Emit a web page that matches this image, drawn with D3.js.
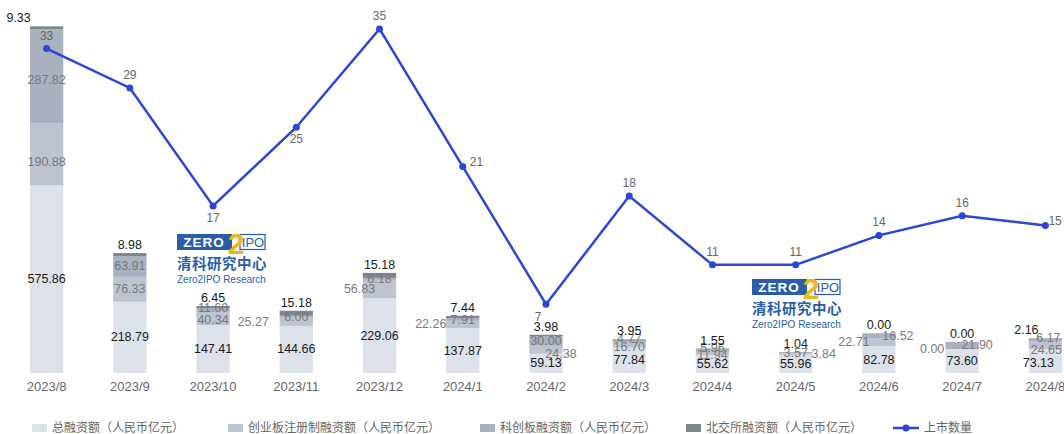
<!DOCTYPE html>
<html>
<head>
<meta charset="utf-8">
<script src="https://cdn.jsdelivr.net/npm/d3@7"></script>
<style>
  body { margin: 0; background: #fff; }
  svg { display: block; font-family: "Liberation Sans", Arial, "Noto Sans CJK SC", sans-serif; }
  .cn { font-family: "Noto Sans CJK SC", sans-serif; }
</style>
</head>
<body>
<div id="chart"></div>
<script>
// data
var months = ['2023/8','2023/9','2023/10','2023/11','2023/12','2024/1','2024/2','2024/3','2024/4','2024/5','2024/6','2024/7','2024/8'];
var totalFin = [575.86, 218.79, 147.41, 144.66, 229.06, 137.87, 59.13, 77.84, 55.62, 55.96, 82.78, 73.60, 73.13];
var cybFin   = [190.88, 76.33, 40.34, 25.27, 56.83, 22.26, 24.38, 16.70, 11.94, 3.84, 22.71, 0.00, 24.65];
var kcbFin   = [287.82, 63.91, 11.60, 6.00, 6.18, 7.91, 30.00, 4.77, 5.96, 3.57, 16.52, 21.90, 6.17];
var bjsFin   = [9.33, 8.98, 6.45, 15.18, 15.18, 7.44, 3.98, 3.95, 1.55, 1.04, 0.00, 0.00, 2.16];
var ipoCount = [33, 29, 17, 25, 35, 21, 7, 18, 11, 11, 14, 16, 15];
var seriesNames = ['总融资额（人民币亿元）', '创业板注册制融资额（人民币亿元）', '科创板融资额（人民币亿元）', '北交所融资额（人民币亿元）'];
var lineName = '上市数量';

// styling / label nudges (not data)
var colors = ['#dde2ea', '#bdc4d0', '#a9b1be', '#7f858f'];
var labelColors = ['#1a1a1a', '#7a7a7a', '#7a7a7a', '#1a1a1a'];
var labelDx = [
    [0, 0, 0, 0, 0, 0, 0, 0, 0, 0, 0, 0, -7],
    [0, 0, 0, -43, -20, -32, 15, 0, 0, 28, -25, -30, 1],
    [0, 0, 0, 0, 0, 0, 0, 0, 0, 0, 19, 15, 3],
    [-28, 0, 0, 0, 0, 0, 0, 0, 0, 0, 0, 0, -19]
];
var labelDy = [
    [0, 0, 0, 0, 0, 0, 0, 0, 0, 0, 0, 0, 2],
    [8, 0, 2, 0, 0, 0, 4, 2, 2, 0, 0, 0, 5],
    [4, 0, -2, 0, 0, 0, 0, -2, -2, 0, 0, 0, -2],
    [0, 0, 0, 0, 0, 0, 0, 0, 0, 0, 0, 0, 0]
];
var lineLabelPos = ['top','top','bottom','bottom','top','right','bottomleft','top','top','top','top','top','right'];

var width = 1064,
    height = 434,
    plotTop = 26,
    plotBottom = 373,
    lineColor = '#2c46d6',
    logoBlue = '#2b5ca8';

var svg = d3.select('#chart').append('svg')
    .attr('width', width)
    .attr('height', height);

var x = d3.scaleBand().domain(months).range([5, 1087]).paddingInner(0.6).paddingOuter(0.3);
var y = d3.scaleLinear().domain([0, 1065]).range([plotBottom, plotTop]);
var yLine = d3.scaleLinear().domain([0, 35.3]).range([plotBottom, plotTop]);

var table = months.map(function(m, i) {
    return { month: m, i: i, total: totalFin[i], cyb: cybFin[i], kcb: kcbFin[i], bjs: bjsFin[i] };
});
var keys = ['total', 'cyb', 'kcb', 'bjs'];
var stacked = d3.stack().keys(keys)(table);

function drawLogo(gx, gy) {
    var g = svg.append('g').attr('transform', 'translate(' + gx + ',' + gy + ')');
    g.append('rect').attr('x', 0).attr('y', 0).attr('width', 55).attr('height', 16).attr('fill', logoBlue);
    g.append('text').attr('x', 27).attr('y', 13).attr('text-anchor', 'middle')
        .attr('fill', '#fff').style('font-weight', 'bold').style('font-size', '13.5px')
        .style('letter-spacing', '1px').text('ZERO');
    g.append('rect').attr('x', 63).attr('y', 0.5).attr('width', 25).attr('height', 15)
        .attr('fill', '#fff').attr('stroke', logoBlue).attr('stroke-width', 1.2);
    g.append('text').attr('x', 76).attr('y', 13).attr('text-anchor', 'middle')
        .attr('fill', logoBlue).style('font-size', '13px').text('IPO');
    g.append('text').attr('x', 59).attr('y', 20).attr('text-anchor', 'middle')
        .attr('fill', '#f3b31a').style('font-weight', 'bold').style('font-size', '30px').text('2');
    g.append('text').attr('class', 'cn').attr('x', 0).attr('y', 35)
        .attr('fill', logoBlue).style('font-weight', 'bold').style('font-size', '14.5px')
        .style('letter-spacing', '0.5px').text('清科研究中心');
    g.append('text').attr('x', 0).attr('y', 49)
        .attr('fill', logoBlue).style('font-size', '10px').text('Zero2IPO Research');
}

function drawBars() {
    var layers = svg.append('g').selectAll('g.layer')
        .data(stacked).enter().append('g')
        .attr('class', 'layer')
        .attr('fill', function(d, k) { return colors[k]; });
    layers.selectAll('rect')
        .data(function(d) { return d; }).enter().append('rect')
        .attr('x', function(d) { return x(d.data.month); })
        .attr('y', function(d) { return y(d[1]); })
        .attr('width', x.bandwidth())
        .attr('height', function(d) { return y(d[0]) - y(d[1]); });
}

function drawBarLabels() {
    stacked.forEach(function(layer, k) {
        svg.append('g').selectAll('text')
            .data(layer).enter().append('text')
            .attr('x', function(d) { return x(d.data.month) + x.bandwidth() / 2 + labelDx[k][d.data.i]; })
            .attr('y', function(d) {
                if (k === 3) return y(d[1]) - 4;
                return (y(d[0]) + y(d[1])) / 2 + 4 + labelDy[k][d.data.i];
            })
            .attr('text-anchor', 'middle')
            .attr('fill', labelColors[k])
            .style('font-size', '12.5px')
            .text(function(d) { return (d[1] - d[0]).toFixed(2); });
    });
}

function drawAxis() {
    var axis = svg.append('g')
        .attr('transform', 'translate(0,' + plotBottom + ')')
        .call(d3.axisBottom(x).tickSize(0).tickPadding(9));
    axis.select('.domain').remove();
    axis.selectAll('text')
        .attr('fill', '#666')
        .style('font-size', '13px')
        .style('font-family', '"Liberation Sans", Arial, sans-serif');
}

function drawLine() {
    var line = d3.line()
        .x(function(d, i) { return x(months[i]) + x.bandwidth() / 2; })
        .y(function(d) { return yLine(d); });
    svg.append('path')
        .datum(ipoCount)
        .attr('d', line)
        .attr('fill', 'none')
        .attr('stroke', lineColor)
        .attr('stroke-width', 2.5);
    svg.append('g').selectAll('circle')
        .data(ipoCount).enter().append('circle')
        .attr('cx', function(d, i) { return x(months[i]) + x.bandwidth() / 2; })
        .attr('cy', function(d) { return yLine(d); })
        .attr('r', 3.5)
        .attr('fill', lineColor);
    svg.append('g').selectAll('text')
        .data(ipoCount).enter().append('text')
        .attr('x', function(d, i) {
            var cx = x(months[i]) + x.bandwidth() / 2;
            var p = lineLabelPos[i];
            if (p === 'right') return cx + (i === months.length - 1 ? 3 : 7);
            if (p === 'bottomleft') return cx - 8;
            return cx;
        })
        .attr('y', function(d, i) {
            var cy = yLine(d);
            var p = lineLabelPos[i];
            if (p === 'top') return cy - 9;
            if (p === 'bottom') return cy + 16;
            if (p === 'bottomleft') return cy + 17;
            return cy - 1;
        })
        .attr('text-anchor', function(d, i) { return lineLabelPos[i] === 'right' ? 'start' : 'middle'; })
        .attr('fill', '#666')
        .style('font-size', '12px')
        .text(function(d) { return d; });
}

function drawLegend() {
    var legendX = [32, 228, 480, 686];
    var ly = 428;
    var g = svg.append('g');
    seriesNames.forEach(function(name, k) {
        g.append('rect').attr('x', legendX[k]).attr('y', ly - 4).attr('width', 15).attr('height', 8).attr('fill', colors[k]);
        g.append('text').attr('class', 'cn').attr('x', legendX[k] + 20).attr('y', ly + 4)
            .attr('fill', '#666').style('font-size', '12px').text(name);
    });
    g.append('line').attr('x1', 893).attr('x2', 919).attr('y1', ly).attr('y2', ly)
        .attr('stroke', lineColor).attr('stroke-width', 2.5);
    g.append('circle').attr('cx', 906).attr('cy', ly).attr('r', 3.5).attr('fill', lineColor);
    g.append('text').attr('class', 'cn').attr('x', 924).attr('y', ly + 4)
        .attr('fill', '#666').style('font-size', '12px').text(lineName);
}

drawBars();
drawLogo(177, 234);
drawLogo(752, 279);
drawLine();
drawBarLabels();
drawAxis();
drawLegend();
</script>
</body>
</html>
